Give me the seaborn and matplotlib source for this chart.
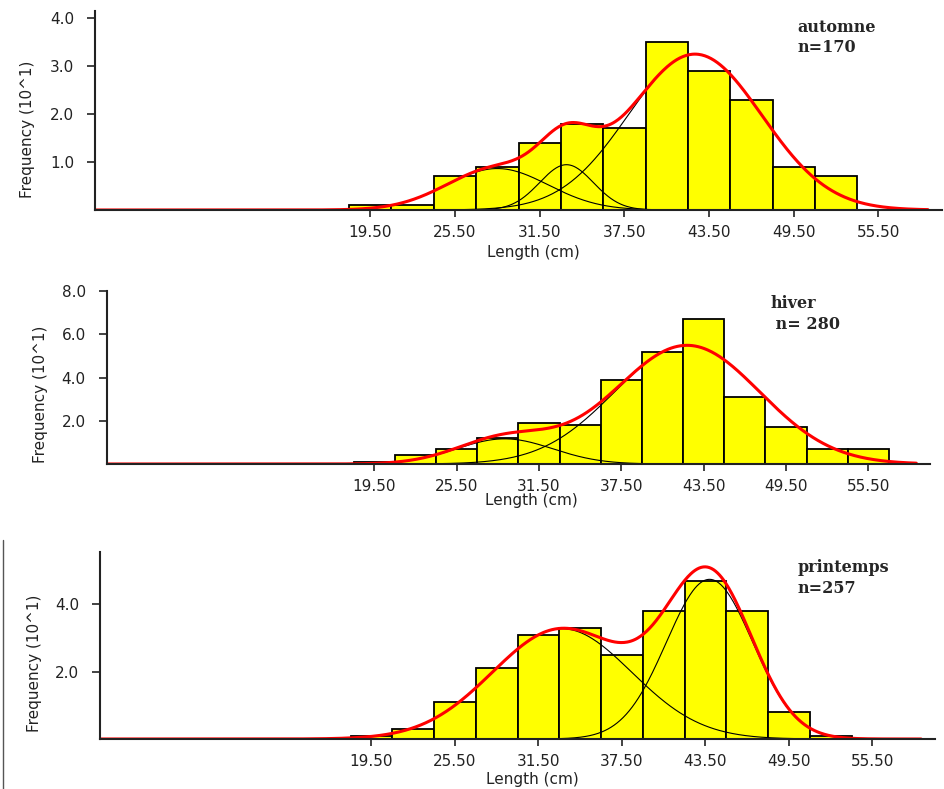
import numpy as np
import matplotlib.pyplot as plt
from matplotlib.lines import Line2D
import seaborn as sns

sns.set_style("ticks")
plt.rcParams["font.family"] = ["DejaVu Sans"]

# ------------------------------------------------------
# Data (frequencies in units of 10^1)
# ------------------------------------------------------

bin_edges = [18, 21, 24, 27, 30, 33, 36, 39, 42, 45, 48, 51, 54, 57]
bin_mids = [19.5, 22.5, 25.5, 28.5, 31.5, 34.5, 37.5, 40.5, 43.5, 46.5, 49.5, 52.5, 55.5]

automne_counts = [1, 1, 7, 9, 14, 18, 17, 35, 29, 23, 9, 7, 0]
hiver_counts = [1, 4, 7, 12, 19, 18, 39, 52, 67, 31, 17, 7, 7]
printemps_counts = [1, 3, 11, 21, 31, 33, 25, 38, 47, 38, 8, 1, 0]

# normal components of the fitted mixture: mean, sd, number of fish
automne_means = [28.5, 33.4, 42.5]
automne_sds = [3.6, 1.9, 4.75]
automne_n = [26, 15, 129]

hiver_means = [29.0, 42.3]
hiver_sds = [3.5, 5.3]
hiver_n = [34, 243]

printemps_means = [33.2, 43.8]
printemps_sds = [5.0, 3.1]
printemps_n = [137, 123]

x_ticks = [19.5, 25.5, 31.5, 37.5, 43.5, 49.5, 55.5]
x_tick_labels = ["19.50", "25.50", "31.50", "37.50", "43.50", "49.50", "55.50"]

panels = [
    {
        "counts": automne_counts, "means": automne_means, "sds": automne_sds, "n": automne_n,
        "label": "automne\nn=170", "rect": [95 / 944, 1 - 210 / 789, 847 / 944, 199 / 789],
        "ylim": 4.15, "yticks": [1, 2, 3, 4], "ylab": (-0.080, 0.405), "xlab": (0.517, -0.216),
        "txt": (0.829, 0.962),
    },
    {
        "counts": hiver_counts, "means": hiver_means, "sds": hiver_sds, "n": hiver_n,
        "label": "hiver\n n= 280", "rect": [106.7 / 944, 1 - 464 / 789, 823.3 / 944, 173 / 789],
        "ylim": 8.0, "yticks": [2, 4, 6, 8], "ylab": (-0.081, 0.40), "xlab": (0.516, -0.213),
        "txt": (0.806, 0.975),
    },
    {
        "counts": printemps_counts, "means": printemps_means, "sds": printemps_sds, "n": printemps_n,
        "label": "printemps\nn=257", "rect": [100 / 944, 1 - 739 / 789, 835 / 944, 187.3 / 789],
        "ylim": 5.57, "yticks": [2, 4], "ylab": (-0.079, 0.403), "xlab": (0.518, -0.214),
        "txt": (0.835, 0.962),
    },
]


def component(x, mean, sd, n):
    # normal curve scaled to a 3 cm bin, in units of 10 fish
    return n * 3 / 10 * np.exp(-((x - mean) ** 2) / (2 * sd**2)) / (sd * np.sqrt(2 * np.pi))


fig = plt.figure(figsize=(9.44, 7.89), dpi=100)

for p in panels:
    ax = fig.add_axes(p["rect"])

    sns.histplot(
        x=bin_mids,
        weights=np.array(p["counts"]) / 10,
        bins=bin_edges,
        color="#ffff00",
        edgecolor="black",
        linewidth=1.3,
        alpha=1,
        ax=ax,
    )

    # individual components (black) then their sum (red)
    xs_full = np.linspace(0, 59, 800)
    total = np.zeros_like(xs_full)
    for m, s, n in zip(p["means"], p["sds"], p["n"]):
        xs = np.linspace(m - 3.5 * s, min(m + 3.5 * s, 59), 300)
        sns.lineplot(x=xs, y=component(xs, m, s, n), color="black", linewidth=0.8, ax=ax)
        total += component(xs_full, m, s, n)
    sns.lineplot(x=xs_full, y=total, color="#ff0000", linewidth=2.2, ax=ax)

    ax.set_xlim(0, 60)
    ax.set_ylim(0, p["ylim"])
    ax.set_xticks(x_ticks)
    ax.set_xticklabels(x_tick_labels)
    ax.set_yticks(p["yticks"])
    ax.set_yticklabels([f"{v:.1f}" for v in p["yticks"]])
    ax.tick_params(axis="x", length=5, width=1.2, pad=6, labelsize=11, colors="#222222")
    ax.tick_params(axis="y", length=6, width=1.2, pad=9, labelsize=11, colors="#222222")

    sns.despine(ax=ax)
    for side in ["left", "bottom"]:
        ax.spines[side].set_linewidth(1.5)
        ax.spines[side].set_color("#222222")

    ax.set_xlabel("Length (cm)", fontsize=11, color="#222222")
    ax.set_ylabel("Frequency (10^1)", fontsize=11, color="#222222")
    ax.xaxis.set_label_coords(*p["xlab"])
    ax.xaxis.label.set_va("center")
    ax.yaxis.set_label_coords(*p["ylab"])
    ax.yaxis.label.set_va("center")

    ax.text(
        p["txt"][0], p["txt"][1], p["label"],
        transform=ax.transAxes, ha="left", va="top",
        family="DejaVu Serif", fontweight="bold", fontsize=11.5, linespacing=1.3,
    )

# thin frame line left of the last panel
fig.add_artist(Line2D([3 / 944, 3 / 944], [0, 1 - 540 / 789], color="#555555", linewidth=1))

plt.savefig("out.png", dpi=100)
